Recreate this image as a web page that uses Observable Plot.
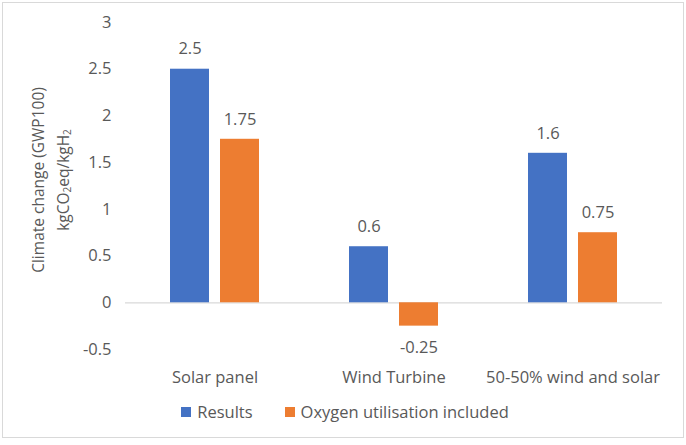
<!DOCTYPE html>
<html>
<head>
<meta charset="utf-8">
<script src="https://cdn.jsdelivr.net/npm/d3@7"></script>
<script src="https://cdn.jsdelivr.net/npm/@observablehq/plot@0.6"></script>
<style>
  html, body { margin: 0; padding: 0; background: #fff; }
  #frame { position: absolute; left: 2px; top: 2px; width: 680px; height: 434px; border: 1px solid #d9d9d9; background: #fff; font-family: "Open Sans", sans-serif; color: #595959; }
  #chart { position: absolute; left: 0; top: 0; }
  #legend { position: absolute; left: 0; width: 680px; top: 399px; display: flex; justify-content: center; padding-left: 4px; box-sizing: border-box; font-size: 16.5px; line-height: 20px; }
  .item { display: flex; align-items: center; margin: 0 16px; }
  .sw { width: 10px; height: 10px; margin-right: 6px; }
</style>
</head>
<body>
<div id="frame"><div id="chart"></div><div id="legend"></div></div>
<script>
const categories = ["Solar panel", "Wind Turbine", "50-50% wind and solar"];
const series = ["Results", "Oxygen utilisation included"];
const results = [2.5, 0.6, 1.6];
const oxygen = [1.75, -0.25, 0.75];
const yTicks = [-0.5, 0, 0.5, 1, 1.5, 2, 2.5, 3];
const colors = ["#4472C4", "#ED7D31"];

const data = categories.flatMap((c, i) => [
  {cat: c, series: series[0], value: results[i]},
  {cat: c, series: series[1], value: oxygen[i]}
]);

const plot = Plot.plot({
  width: 680,
  height: 395,
  marginLeft: 121,
  marginRight: 20,
  marginTop: 19,
  marginBottom: 49,
  style: {fontFamily: "Open Sans, sans-serif", fontSize: "16.5px", color: "#595959", background: "transparent", overflow: "visible"},
  fx: {domain: categories, padding: 0, label: null},
  x: {domain: series, paddingInner: 0.216, paddingOuter: 0.87, axis: null},
  y: {domain: [-0.5, 3], label: null},
  color: {domain: series, range: colors},
  marks: [
    Plot.axisFx({anchor: "bottom", tickSize: 0, tickPadding: 22, label: null, fontSize: 16.5}),
    Plot.axisY({ticks: yTicks, tickSize: 0, tickPadding: 14, tickFormat: d => String(d), label: null, fontSize: 16.5}),
    Plot.ruleY([0], {stroke: "#d9d9d9", strokeWidth: 1.2}),
    Plot.barY(data, {fx: "cat", x: "series", y: "value", fill: "series"}),
    Plot.text(data.filter(d => d.value >= 0), {fx: "cat", x: "series", y: "value", text: d => String(d.value), dy: -20, fontSize: 16.5}),
    Plot.text(data.filter(d => d.value < 0), {fx: "cat", x: "series", y: "value", text: d => String(d.value), dy: 22, fontSize: 16.5})
  ]
});
document.getElementById("chart").appendChild(plot);

// Y axis title (two lines, with subscripts)
const svg = d3.select(plot);
const cy = 177;
svg.append("text")
  .attr("transform", `translate(35,${cy}) rotate(-90)`)
  .attr("text-anchor", "middle").attr("dominant-baseline", "central")
  .attr("fill", "#595959").style("font-size", "15.5px")
  .text("Climate change (GWP100)");
const t2 = svg.append("text")
  .attr("transform", `translate(60,${cy}) rotate(-90)`)
  .attr("text-anchor", "middle").attr("dominant-baseline", "central")
  .attr("fill", "#595959").style("font-size", "15.5px");
t2.append("tspan").text("kgCO");
t2.append("tspan").text("2").attr("font-size", "10px").attr("dy", 4);
t2.append("tspan").text("eq/kgH").attr("dy", -4);
t2.append("tspan").text("2").attr("font-size", "10px").attr("dy", 4);

// Legend
const legend = d3.select("#legend");
series.forEach((s, i) => {
  const it = legend.append("div").attr("class", "item");
  it.append("div").attr("class", "sw").style("background", colors[i]);
  it.append("span").text(s);
});
</script>
</body>
</html>
